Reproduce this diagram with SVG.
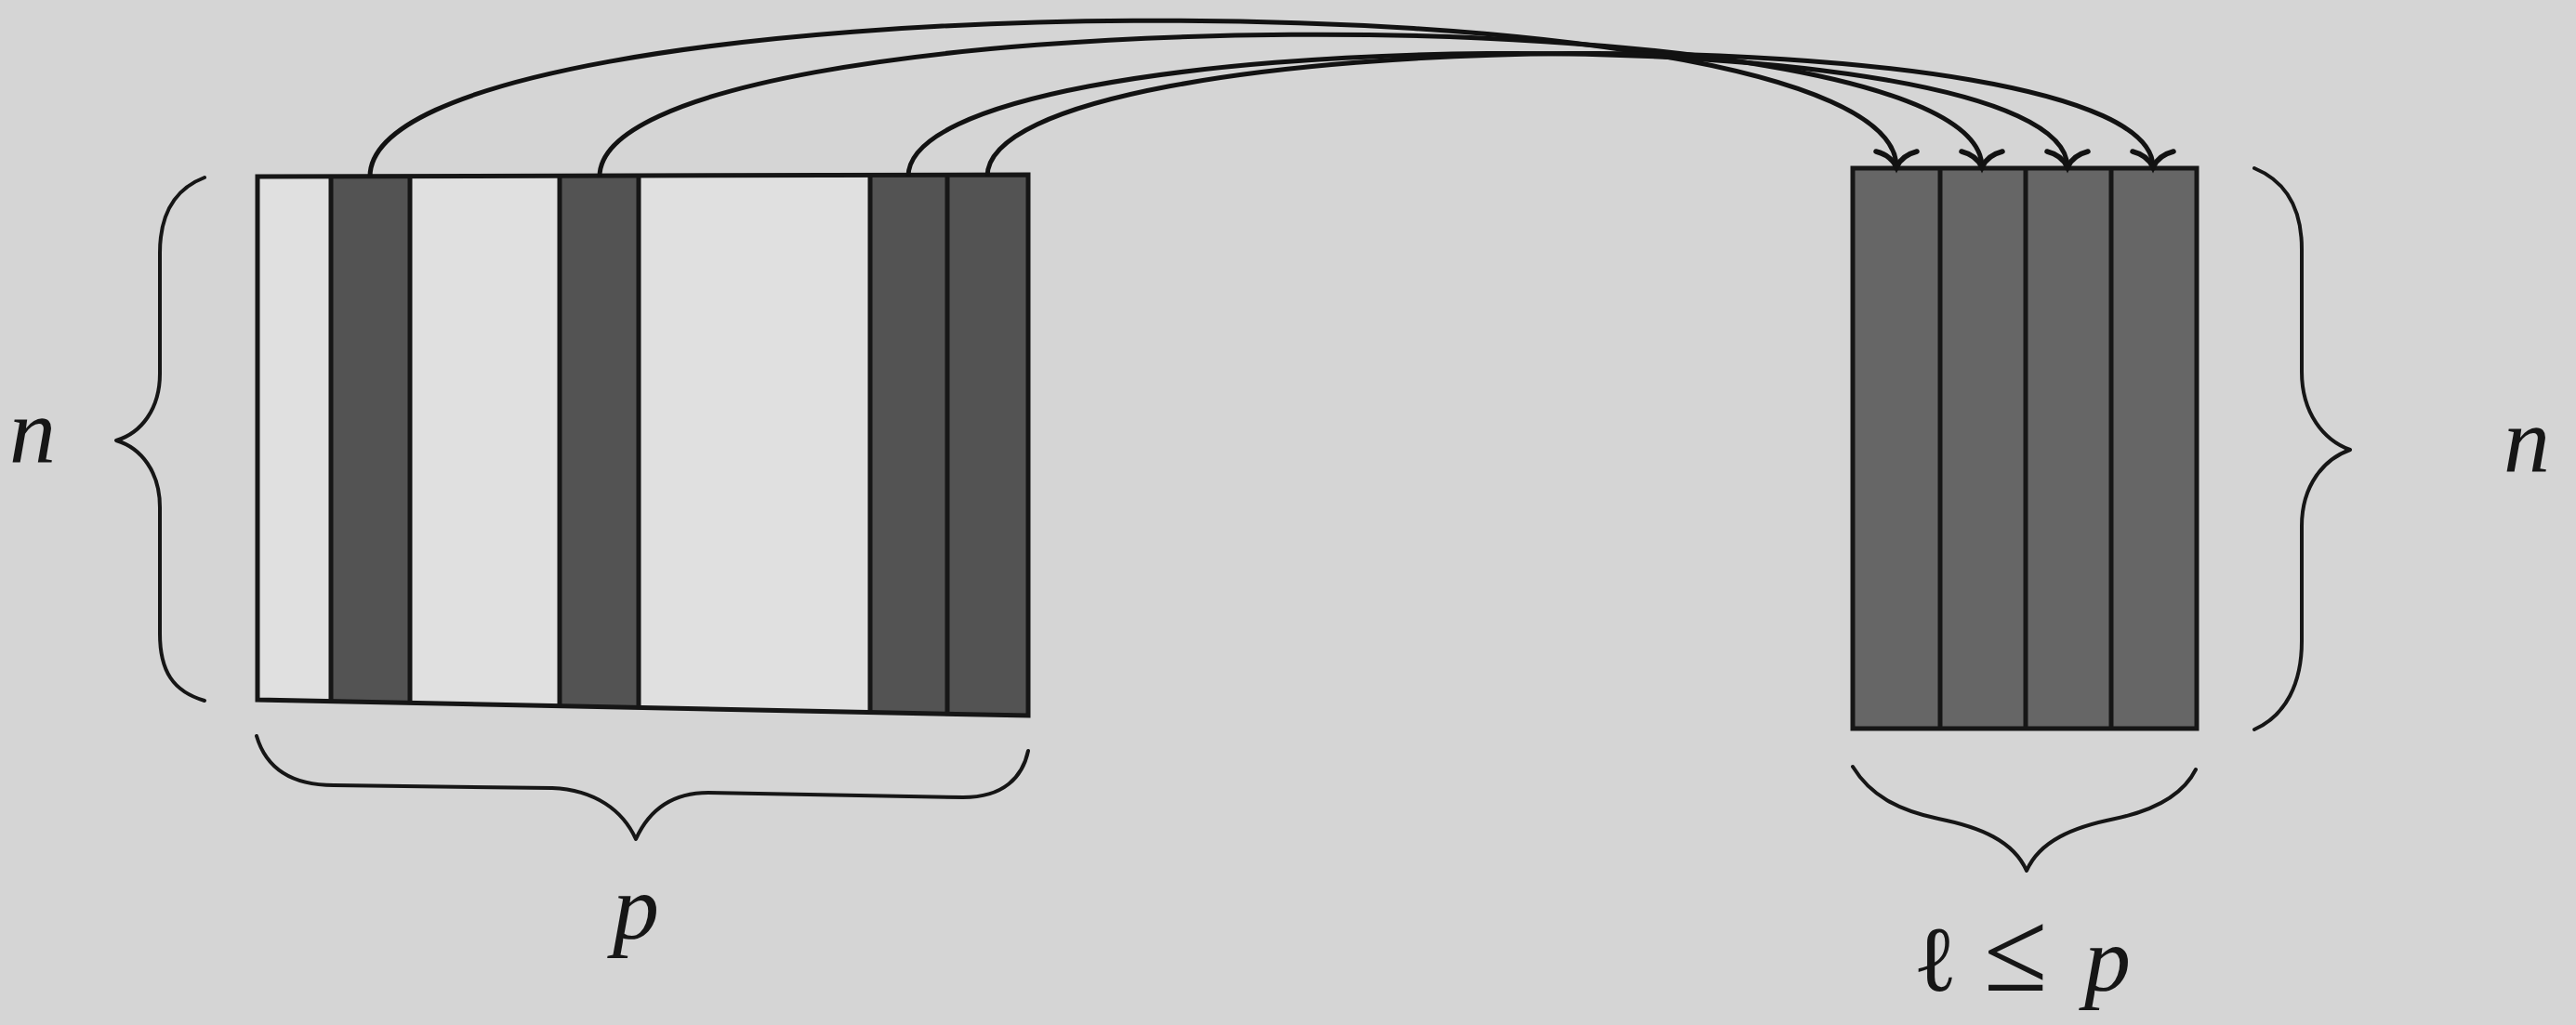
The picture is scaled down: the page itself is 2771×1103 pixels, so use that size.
<svg xmlns="http://www.w3.org/2000/svg" width="2771" height="1103" viewBox="0 0 2771 1103">
  <style>
    .bg { fill: #d5d5d5; }
    .light { fill: #e0e0e0; }
    .dark { fill: #535353; }
    .mid { fill: #666666; }
    .edge { fill: none; stroke: #161616; stroke-width: 5; stroke-linejoin: miter; }
    .brace { fill: none; stroke: #161616; stroke-width: 4; stroke-linecap: round; stroke-linejoin: round; }
    .conn { fill: none; stroke: #121212; stroke-width: 5; marker-end: url(#arr); }
    .math { font-family: "Liberation Serif", "DejaVu Serif", serif; font-size: 100px; fill: #161616; }
    .it { font-style: italic; }
    .rel { font-size: 125px; }
  </style>
  <defs>
    <marker id="arr" markerUnits="userSpaceOnUse" markerWidth="70" markerHeight="70" viewBox="-35 -35 70 70" refX="0" refY="0" orient="auto" overflow="visible">
      <path d="M -17 -22 Q -13 -6 0 0 Q -13 6 -17 22" fill="none" stroke="#121212" stroke-width="5.5" stroke-linecap="round"/>
    </marker>
  </defs>

  <rect class="bg" x="0" y="0" width="2771" height="1103"/>

  <g id="matrix-left">
    <polygon class="light" points="277,190 1106,188 1106,770 277,753"/>
    <polygon class="dark" points="356,190 441,190 441,757 356,755"/>
    <polygon class="dark" points="602,189 687,189 687,762 602,760"/>
    <polygon class="dark" points="936,188 1106,188 1106,770 936,766"/>
    <polygon class="edge" points="277,190 1106,188 1106,770 277,753"/>
    <line class="edge" x1="356" y1="190" x2="356" y2="755"/>
    <line class="edge" x1="441" y1="190" x2="441" y2="757"/>
    <line class="edge" x1="602" y1="189" x2="602" y2="760"/>
    <line class="edge" x1="687" y1="189" x2="687" y2="762"/>
    <line class="edge" x1="936" y1="188" x2="936" y2="766"/>
    <line class="edge" x1="1019" y1="188" x2="1019" y2="768"/>
  </g>

  <g id="matrix-right">
    <rect class="mid" x="1993" y="181" width="370" height="603"/>
    <rect class="edge" x="1993" y="181" width="370" height="603"/>
    <line class="edge" x1="2087" y1="181" x2="2087" y2="784"/>
    <line class="edge" x1="2179" y1="181" x2="2179" y2="784"/>
    <line class="edge" x1="2271" y1="181" x2="2271" y2="784"/>
  </g>

  <g id="brace-left-n">
    <path class="brace" d="M 220 191 C 186 204, 172 232, 172 272 L 172 402 C 172 440, 152 466, 125 474 C 152 482, 172 508, 172 546 L 172 682 C 172 722, 186 744, 220 754"/>
    <text class="math it" x="35" y="497" text-anchor="middle">n</text>
  </g>

  <g id="brace-right-n">
    <path class="brace" d="M 2425 181 C 2459 195, 2476 225, 2476 268 L 2476 400 C 2476 445, 2500 474, 2528 484 C 2500 494, 2476 522, 2476 566 L 2476 690 C 2476 735, 2459 770, 2425 785"/>
    <text class="math it" x="2718" y="507" text-anchor="middle">n</text>
  </g>

  <g id="brace-bottom-p">
    <path class="brace" d="M 276 792 C 286 826, 312 845, 359 845 L 594 848 C 640 850, 670 872, 684 903 C 698 872, 722 853, 762 853 L 1036 858 C 1080 858, 1100 836, 1106 808"/>
    <text class="math it" x="684" y="1010" text-anchor="middle">p</text>
  </g>

  <g id="brace-bottom-l">
    <path class="brace" d="M 1993 825 C 2012 856, 2042 872, 2085 881 C 2130 890, 2166 905, 2180 937 C 2194 905, 2230 890, 2275 881 C 2318 872, 2348 856, 2362 828"/>
    <text class="math" y="1066"><tspan x="2058">ℓ</tspan><tspan class="rel" x="2134">≤</tspan><tspan class="it" x="2242">p</tspan></text>
  </g>

  <g id="connectors">
    <path class="conn" d="M 398 190 C 398 -27, 2040 -37, 2040 180"/>
    <path class="conn" d="M 645 190 C 645 -7, 2132 -17, 2132 180"/>
    <path class="conn" d="M 977 190 C 977 20, 2224 10, 2224 180"/>
    <path class="conn" d="M 1062 190 C 1062 20, 2316 10, 2316 180"/>
  </g>
</svg>
